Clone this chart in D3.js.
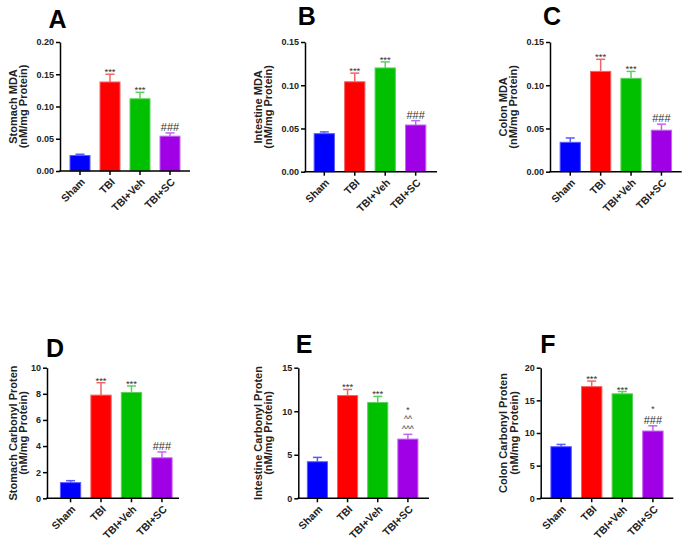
<!DOCTYPE html>
<html>
<head>
<meta charset="utf-8">
<script src="https://cdn.jsdelivr.net/npm/d3@7"></script>
<style>
  body { margin: 0; background: #fff; }
  text { font-family: "Liberation Sans", Arial, sans-serif; }
</style>
</head>
<body>
<svg id="chart" width="685" height="542"></svg>
<script>
// groups on the x axis
const groups = ['Sham', 'TBI', 'TBI+Veh', 'TBI+SC'];

// means and SEM
const stomachMDA = [0.024, 0.138, 0.112, 0.054];
const stomachMDAErr = [0.002, 0.012, 0.010, 0.005];
const intestineMDA = [0.044, 0.104, 0.120, 0.054];
const intestineMDAErr = [0.002, 0.010, 0.007, 0.005];
const colonMDA = [0.034, 0.116, 0.108, 0.048];
const colonMDAErr = [0.005, 0.014, 0.008, 0.007];
const stomachCP = [1.2, 7.9, 8.1, 3.1];
const stomachCPErr = [0.15, 0.95, 0.5, 0.45];
const intestineCP = [4.2, 11.8, 11.0, 6.8];
const intestineCPErr = [0.5, 0.7, 0.7, 0.55];
const colonCP = [7.9, 17.1, 16.0, 10.3];
const colonCPErr = [0.35, 0.85, 0.35, 0.8];

// y ticks
const mdaTicksA = [0, 0.05, 0.10, 0.15, 0.20];
const mdaTicks = [0, 0.05, 0.10, 0.15];
const stomachCPTicks = [0, 2, 4, 6, 8, 10];
const intestineCPTicks = [0, 5, 10, 15];
const colonCPTicks = [0, 5, 10, 15, 20];

// significance marks, top line first
const marksStd = [[], ['***'], ['***'], ['###']];
const marksE = [[], ['***'], ['***'], ['*', '^^', '^^^']];
const marksF = [[], ['***'], ['***'], ['*', '###']];

const barColors = ['#0000ff', '#ff0000', '#00c000', '#a000e6'];
const errColors = ['#5a5aff', '#f26464', '#5ad25a', '#c266f0'];

// panels
const panels = [
  { letter: 'A', label: ['Stomach MDA', '(nM/mg Protein)'], vals: stomachMDA, errs: stomachMDAErr, ticks: mdaTicksA, fmt: '.2f', marks: marksStd,
    x0: 60, x1: 190, yTop: 42, yBot: 171, align: 0.5, lx: [16.5, 26.5], title: [57.5, 28] },
  { letter: 'B', label: ['Intestine MDA', '(nM/mg Protein)'], vals: intestineMDA, errs: intestineMDAErr, ticks: mdaTicks, fmt: '.2f', marks: marksStd,
    x0: 305, x1: 437, yTop: 42, yBot: 171.7, align: 0.45, lx: [261.5, 271.5], title: [306.7, 25] },
  { letter: 'C', label: ['Colon MDA', '(nM/mg Protein)'], vals: colonMDA, errs: colonMDAErr, ticks: mdaTicks, fmt: '.2f', marks: marksStd,
    x0: 550, x1: 681.7, yTop: 42, yBot: 171.7, align: 0.5, lx: [506.5, 516.5], title: [552, 25] },
  { letter: 'D', label: ['Stomach Carbonyl Proten', '(nM/mg Protein)'], vals: stomachCP, errs: stomachCPErr, ticks: stomachCPTicks, fmt: 'd', marks: marksStd,
    x0: 47, x1: 179, yTop: 367.7, yBot: 498.3, align: 0.66, lx: [16.5, 26.5], title: [55, 356.7] },
  { letter: 'E', label: ['Intestine Carbonyl Proten', '(nM/mg Protein)'], vals: intestineCP, errs: intestineCPErr, ticks: intestineCPTicks, fmt: 'd', marks: marksE,
    x0: 298.3, x1: 429, yTop: 367.7, yBot: 498.3, align: 0.45, lx: [261.5, 271.5], title: [304, 353] },
  { letter: 'F', label: ['Colon Carbonyl Proten', '(nM/mg Protein)'], vals: colonCP, errs: colonCPErr, ticks: colonCPTicks, fmt: 'd', marks: marksF,
    x0: 540.7, x1: 673.3, yTop: 367.7, yBot: 498.3, align: 0.5, lx: [507, 517.5], title: [548, 353] }
];

// font size per mark kind
function markSize(m) {
  if (m.indexOf('#') >= 0) return 11;
  if (m === '***') return 9.5;
  return 8.5;
}

const svg = d3.select('#chart');
svg.append('rect').attr('width', 685).attr('height', 542).attr('fill', '#fff');

panels.forEach(function(p) {
  const g = svg.append('g');

  const x = d3.scaleBand()
    .domain(groups)
    .range([p.x0, p.x1])
    .paddingInner(1 / 3)
    .paddingOuter(1 / 3)
    .align(p.align);

  const y = d3.scaleLinear()
    .domain([0, d3.max(p.ticks)])
    .range([p.yBot, p.yTop]);

  const rows = groups.map((name, i) => ({ name: name, v: p.vals[i], e: p.errs[i], i: i, marks: p.marks[i] }));

  // bars
  g.selectAll('rect.bar')
    .data(rows)
    .enter()
    .append('rect')
    .attr('class', 'bar')
    .attr('x', d => x(d.name))
    .attr('y', d => y(d.v))
    .attr('width', x.bandwidth())
    .attr('height', d => y(0) - y(d.v))
    .attr('fill', d => barColors[d.i])
    .attr('stroke', d => errColors[d.i])
    .attr('stroke-width', 1);

  // error bars (upper only)
  const cx = d => x(d.name) + x.bandwidth() / 2;
  g.selectAll('line.err')
    .data(rows)
    .enter()
    .append('line')
    .attr('class', 'err')
    .attr('x1', cx).attr('x2', cx)
    .attr('y1', d => y(d.v)).attr('y2', d => y(d.v + d.e))
    .attr('stroke', d => errColors[d.i])
    .attr('stroke-width', 1.5);
  g.selectAll('line.cap')
    .data(rows)
    .enter()
    .append('line')
    .attr('class', 'cap')
    .attr('x1', d => cx(d) - 4.5).attr('x2', d => cx(d) + 4.5)
    .attr('y1', d => y(d.v + d.e)).attr('y2', d => y(d.v + d.e))
    .attr('stroke', d => errColors[d.i])
    .attr('stroke-width', 1.5);

  // significance marks, stacked up from the cap so their boxes just touch
  rows.filter(d => d.marks.length).forEach(function(d) {
    const n = d.marks.length;
    const last = d.marks[n - 1];
    let base = y(d.v + d.e) - 2 + (last.indexOf('*') >= 0 ? 3 : 0);
    for (let k = n - 1; k >= 0; k--) {
      const m = d.marks[k];
      if (k < n - 1) {
        const below = markSize(d.marks[k + 1]);
        base -= below * 0.905 + markSize(m) * 0.212 + 0.4;
      }
      g.append('text')
        .attr('x', cx(d))
        .attr('y', base)
        .attr('text-anchor', 'middle')
        .attr('font-size', markSize(m))
        .attr('fill', '#333')
        .text(m);
    }
  });

  // y axis
  const yAxis = g.append('g')
    .attr('transform', `translate(${p.x0},0)`)
    .call(d3.axisLeft(y).tickValues(p.ticks).tickFormat(d3.format(p.fmt)).tickSize(4).tickSizeOuter(0).tickPadding(2));
  yAxis.select('.domain').attr('stroke', '#000').attr('stroke-width', 1.5);
  yAxis.selectAll('.tick line').attr('stroke', '#000').attr('stroke-width', 1.5);
  yAxis.selectAll('.tick text')
    .attr('font-size', 9)
    .attr('font-weight', 'bold')
    .attr('fill', '#222')
    .style('font-family', '"Liberation Sans", Arial, sans-serif');

  // x axis
  const xAxis = g.append('g')
    .attr('transform', `translate(0,${p.yBot})`)
    .call(d3.axisBottom(x).tickSize(4).tickSizeOuter(0).tickFormat(''));
  xAxis.select('.domain').remove();
  xAxis.append('line')
    .attr('x1', p.x0 - 0.75).attr('x2', p.x1)
    .attr('stroke', '#000').attr('stroke-width', 1.5);
  xAxis.selectAll('.tick line').attr('stroke', '#000').attr('stroke-width', 1.5);

  // rotated category labels
  g.selectAll('text.cat')
    .data(groups)
    .enter()
    .append('text')
    .attr('class', 'cat')
    .attr('text-anchor', 'end')
    .attr('font-size', 10.5)
    .attr('font-weight', 'bold')
    .attr('fill', '#222')
    .attr('transform', d => `translate(${x(d) + x.bandwidth() / 2 + 3},${p.yBot + 9}) rotate(-45)`)
    .attr('dy', '0.35em')
    .text(d => d);

  // y title (two lines)
  const yMid = (p.yTop + p.yBot) / 2;
  p.label.forEach(function(line, k) {
    g.append('text')
      .attr('transform', `translate(${p.lx[k]},${yMid}) rotate(-90)`)
      .attr('text-anchor', 'middle')
      .attr('font-size', 11)
      .attr('font-weight', 'bold')
      .attr('fill', '#222')
      .text(line);
  });

  // panel letter
  g.append('text')
    .attr('x', p.title[0])
    .attr('y', p.title[1])
    .attr('text-anchor', 'middle')
    .attr('font-size', 25)
    .attr('font-weight', 'bold')
    .attr('fill', '#000')
    .text(p.letter);
});
</script>
</body>
</html>
